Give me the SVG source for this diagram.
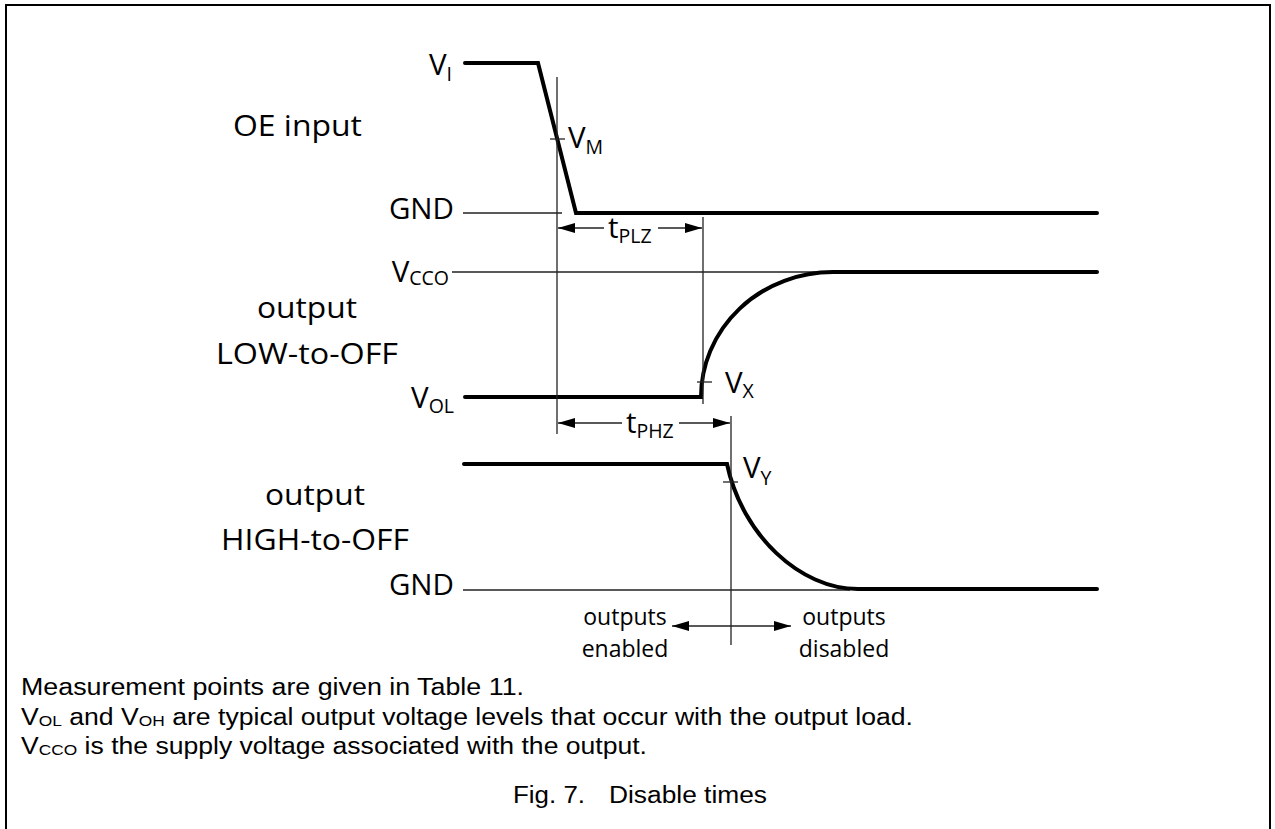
<svg xmlns="http://www.w3.org/2000/svg" width="1275" height="829" viewBox="0 0 1275 829">
  <style>
    .lbl { font-family: "Open Sans", "Noto Sans", sans-serif; font-size: 29.5px; fill: #000; }
    .sub { font-size: 19.5px; }
    .small { font-family: "Open Sans", "Noto Sans", sans-serif; font-size: 23px; fill: #000; }
    .note { font-family: "Liberation Sans", Arial, sans-serif; font-size: 23px; fill: #000; }
    .nsub { font-size: 15px; }
    .sig { fill: none; stroke: #000; stroke-width: 4; stroke-linejoin: miter; stroke-linecap: round; }
    .thin { fill: none; stroke: #222; stroke-width: 1.3; }
  </style>
  <defs>
    <marker id="ah" markerUnits="userSpaceOnUse" markerWidth="18" markerHeight="12" refX="17" refY="5" orient="auto-start-reverse" viewBox="0 0 18 10">
      <path d="M0,0 L17,5 L0,10 Z" fill="#000"/>
    </marker>
  </defs>

  <rect x="6" y="5" width="1264" height="900" fill="#fff" stroke="#000" stroke-width="2"/>

  <g id="oe-input">
    <text class="lbl" x="233" y="136" textLength="129" lengthAdjust="spacingAndGlyphs">OE input</text>
    <text class="lbl" x="452" y="75" text-anchor="end">V<tspan class="sub" dy="6">I</tspan></text>
    <text class="lbl" x="454" y="219" text-anchor="end">GND</text>
    <line class="thin" x1="463" y1="213" x2="562" y2="213"/>
    <path class="sig" d="M465,63 H538 L576,213 H1097"/>
    <line class="thin" x1="550" y1="139" x2="565" y2="139"/>
    <text class="lbl" x="568" y="148">V<tspan class="sub" dy="6">M</tspan></text>
  </g>

  <g id="output-low-to-off">
    <text class="lbl" x="307" y="318" text-anchor="middle" textLength="100" lengthAdjust="spacingAndGlyphs">output</text>
    <text class="lbl" x="307" y="364" text-anchor="middle" textLength="182" lengthAdjust="spacingAndGlyphs">LOW-to-OFF</text>
    <text class="lbl" x="449" y="282" text-anchor="end">V<tspan class="sub" dy="3">CCO</tspan></text>
    <text class="lbl" x="454" y="408" text-anchor="end">V<tspan class="sub" dy="5">OL</tspan></text>
    <line class="thin" x1="452" y1="272" x2="834" y2="272"/>
    <path class="sig" d="M465,397 H701 A132,125 0 0 1 833,272 H1097"/>
    <line class="thin" x1="697" y1="382" x2="712" y2="382"/>
    <text class="lbl" x="725" y="393">V<tspan class="sub" dy="5">X</tspan></text>
  </g>

  <g id="output-high-to-off">
    <text class="lbl" x="315" y="505" text-anchor="middle" textLength="100" lengthAdjust="spacingAndGlyphs">output</text>
    <text class="lbl" x="315" y="550" text-anchor="middle" textLength="188" lengthAdjust="spacingAndGlyphs">HIGH-to-OFF</text>
    <text class="lbl" x="454" y="595" text-anchor="end">GND</text>
    <line class="thin" x1="463" y1="590" x2="850" y2="590"/>
    <path class="sig" d="M464,464 H727 C742,535 800,589 858,589 H1097"/>
    <line class="thin" x1="723" y1="482" x2="738" y2="482"/>
    <text class="lbl" x="743" y="478">V<tspan class="sub" dy="7">Y</tspan></text>
  </g>

  <g id="connectors">
    <line class="thin" x1="557" y1="77" x2="557" y2="434"/>
    <line class="thin" x1="703" y1="217" x2="703" y2="404"/>
    <line class="thin" x1="731" y1="416" x2="731" y2="645"/>
    <line class="thin" x1="604" y1="228" x2="558" y2="228" marker-end="url(#ah)"/>
    <line class="thin" x1="658" y1="228" x2="702" y2="228" marker-end="url(#ah)"/>
    <line class="thin" x1="622" y1="423" x2="558" y2="423" marker-end="url(#ah)"/>
    <line class="thin" x1="679" y1="423" x2="730" y2="423" marker-end="url(#ah)"/>
    <line class="thin" x1="672" y1="626" x2="791" y2="626" marker-start="url(#ah)" marker-end="url(#ah)"/>
  </g>

  <g id="timing-labels">
    <text class="lbl" x="608" y="238">t<tspan class="sub" dy="5">PLZ</tspan></text>
    <text class="lbl" x="626" y="433">t<tspan class="sub" dy="5">PHZ</tspan></text>
    <text class="small" x="625" y="625" text-anchor="middle">outputs</text>
    <text class="small" x="625" y="657" text-anchor="middle">enabled</text>
    <text class="small" x="844" y="625" text-anchor="middle">outputs</text>
    <text class="small" x="844" y="657" text-anchor="middle">disabled</text>
  </g>

  <g id="notes">
    <text class="note" x="21" y="695" textLength="503" lengthAdjust="spacingAndGlyphs">Measurement points are given in Table 11.</text>
    <text class="note" x="21" y="725" textLength="892" lengthAdjust="spacingAndGlyphs">V<tspan class="nsub" dy="1">OL</tspan><tspan dy="-1"> and V</tspan><tspan class="nsub" dy="1">OH</tspan><tspan dy="-1"> are typical output voltage levels that occur with the output load.</tspan></text>
    <text class="note" x="21" y="754" textLength="626" lengthAdjust="spacingAndGlyphs">V<tspan class="nsub" dy="1">CCO</tspan><tspan dy="-1"> is the supply voltage associated with the output.</tspan></text>
    <text class="note" x="513" y="803" textLength="72" lengthAdjust="spacingAndGlyphs">Fig. 7.</text>
    <text class="note" x="609" y="803" textLength="158" lengthAdjust="spacingAndGlyphs">Disable times</text>
  </g>
</svg>
